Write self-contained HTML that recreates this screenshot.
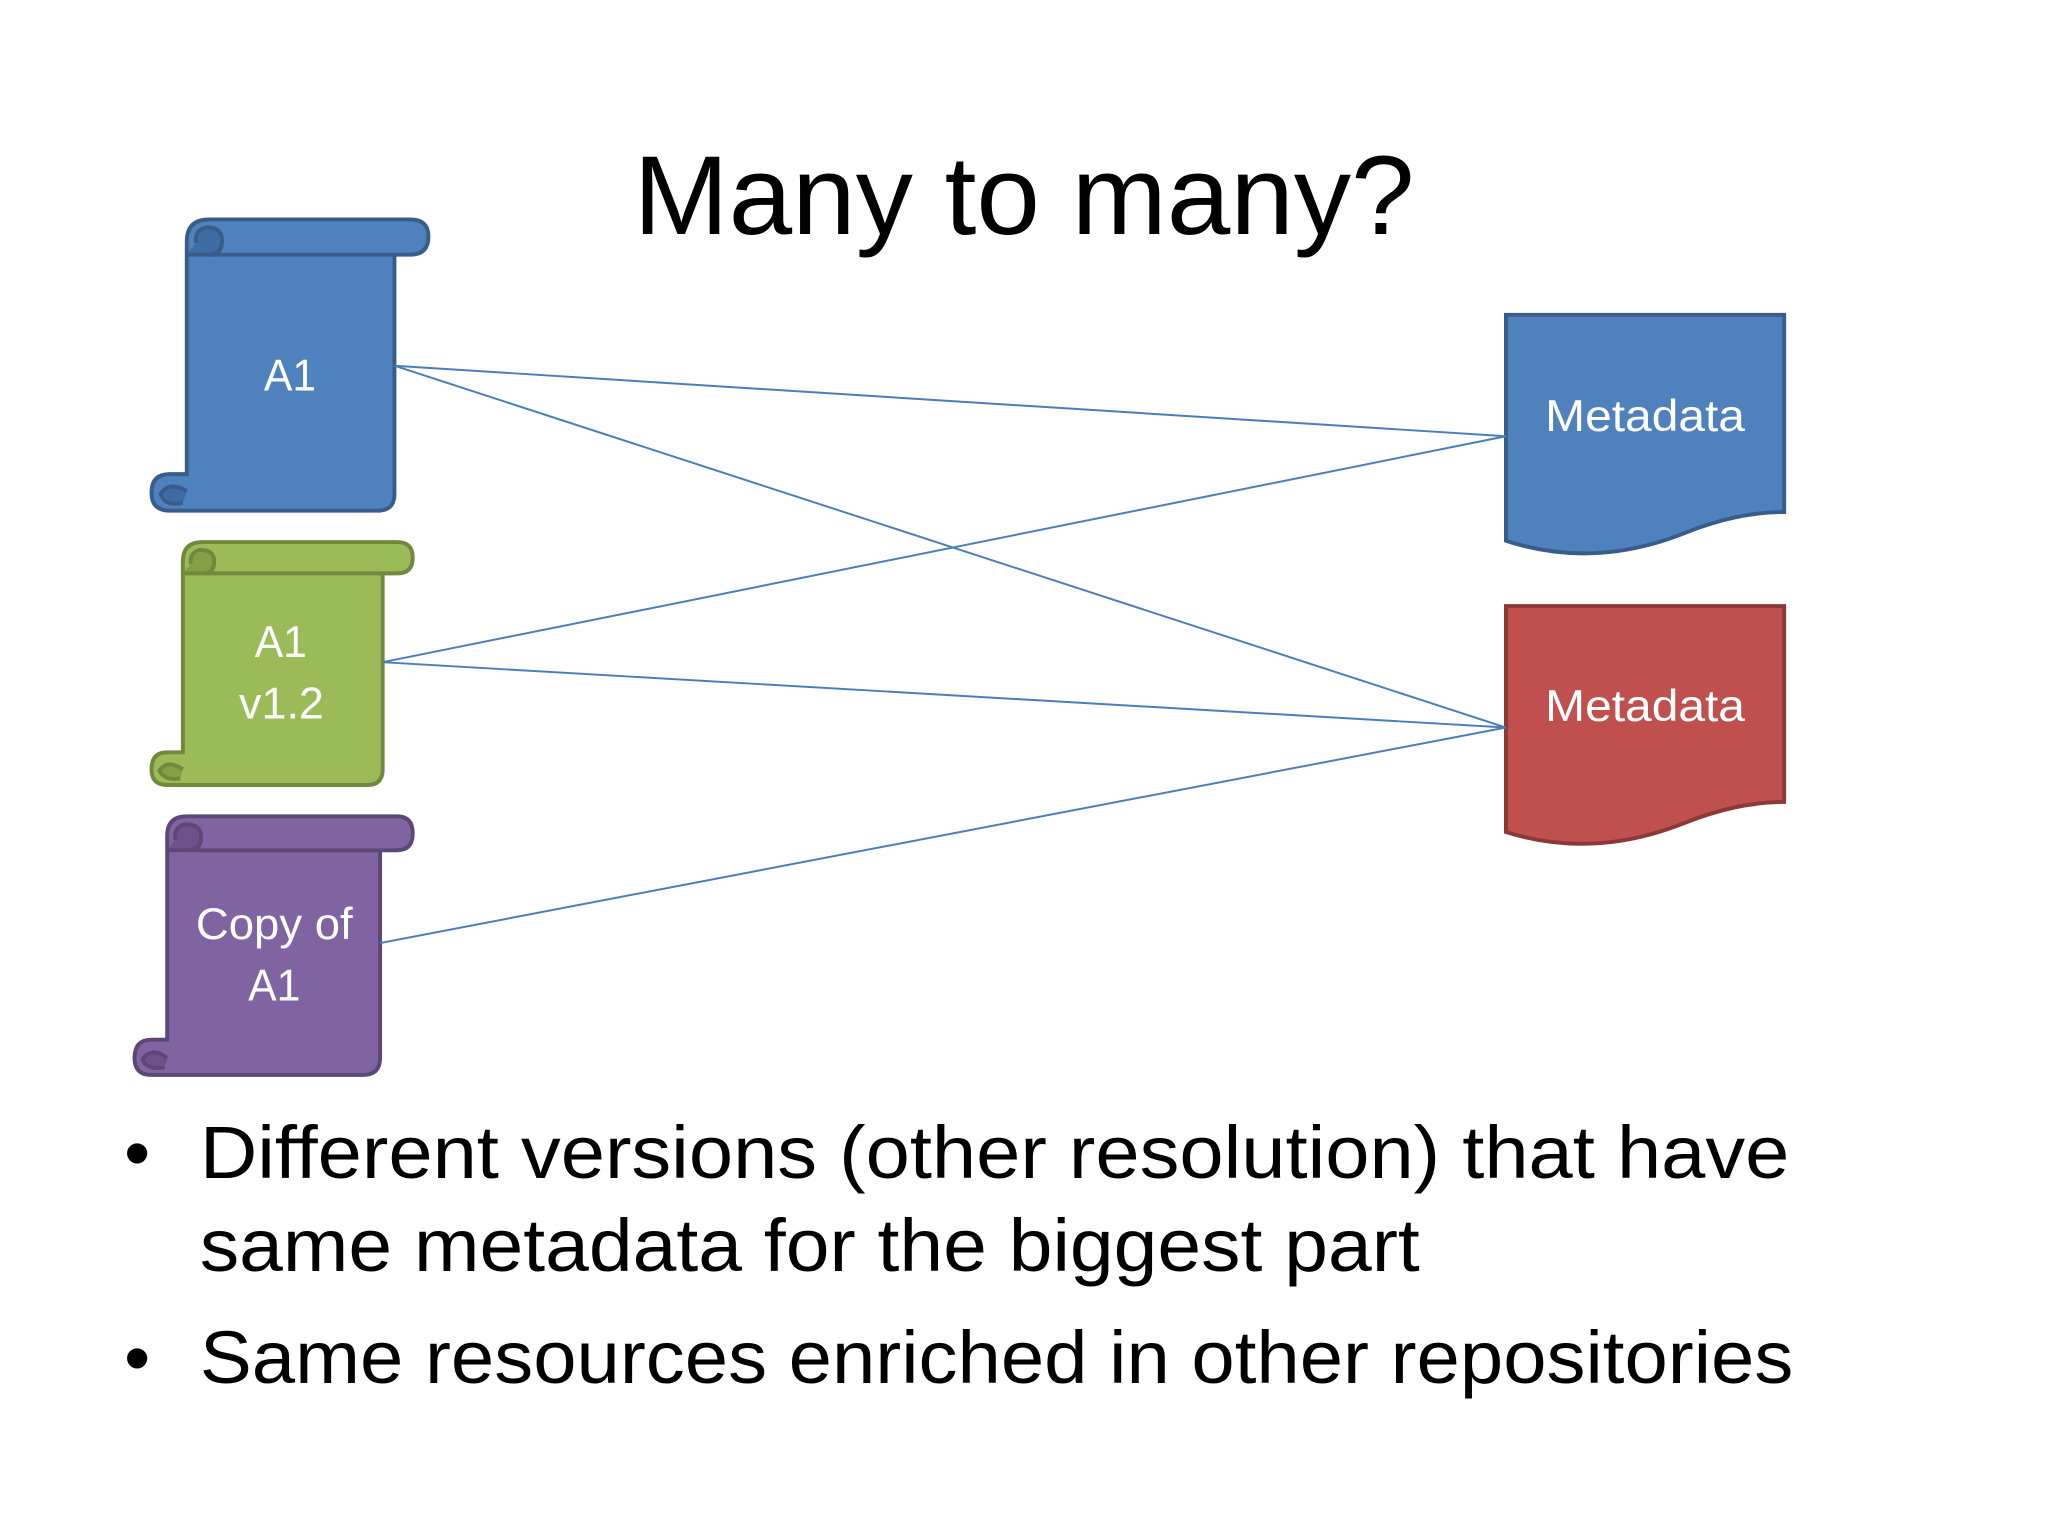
<!DOCTYPE html>
<html><head><meta charset="utf-8"><style>
html,body{margin:0;padding:0;background:#fff;}
svg{display:block;}
text{font-family:"Liberation Sans",sans-serif;}
</style></head><body>
<svg width="2048" height="1536" viewBox="0 0 1568 1176" xmlns="http://www.w3.org/2000/svg">
<rect width="1568" height="1176" fill="#fff"/>
<text x="485" y="179" font-size="86" textLength="598" lengthAdjust="spacingAndGlyphs" fill="#000">Many to many?</text>

<!-- Blue scroll -->
<g stroke="#385D8A" stroke-width="3" fill="#4F81BD">
<path d="M143,185 Q143,168 160,168 L314,168 Q328,168 328,181 Q328,195 314,195 L302,195 L302,378 Q302,391 289,391 L130,391 Q116,391 116,377 Q116,363 130,363 L143,363 Z"/>
<line x1="160" y1="195" x2="302" y2="195"/>
<path d="M143,195 L160,195 Q170,195 170,184 Q170,174 158,174 Q149,176 150,186" fill="#3F6CA3"/>
<path d="M143,376 Q130,368 123,378 Q126,388 140,385" fill="#3F6CA3"/>
</g>
<text x="202" y="299" font-size="34" fill="#fff" textLength="40" lengthAdjust="spacingAndGlyphs">A1</text>

<!-- Green scroll -->
<g stroke="#71893F" stroke-width="3" fill="#9BBB59">
<path d="M140,430 Q140,415 155,415 L304,415 Q316,415 316,427 Q316,439 304,439 L293,439 L293,589 Q293,601 281,601 L128,601 Q116,601 116,589 Q116,576 128,576 L140,576 Z"/>
<line x1="155" y1="439" x2="293" y2="439"/>
<path d="M140,439 L155,439 Q164,439 164,430 Q164,421 153,421 Q145,423 146,432" fill="#84A046"/>
<path d="M140,589 Q128,581 122,590 Q126,598 138,596" fill="#84A046"/>
</g>
<text x="195" y="503" font-size="34" fill="#fff" textLength="40" lengthAdjust="spacingAndGlyphs">A1</text>
<text x="183" y="550" font-size="34" fill="#fff" textLength="65" lengthAdjust="spacingAndGlyphs">v1.2</text>

<!-- Purple scroll -->
<g stroke="#5C4776" stroke-width="3" fill="#8064A2">
<path d="M128,640 Q128,625 143,625 L304,625 Q316,625 316,638 Q316,651 304,651 L291,651 L291,810 Q291,823 278,823 L116,823 Q103,823 103,810 Q103,796 116,796 L128,796 Z"/>
<line x1="143" y1="651" x2="291" y2="651"/>
<path d="M128,651 L143,651 Q154,651 154,641 Q154,631 142,631 Q133,633 134,643" fill="#6B528B"/>
<path d="M128,810 Q116,801 109,811 Q113,820 126,817" fill="#6B528B"/>
</g>
<text x="150" y="719" font-size="34" fill="#fff" textLength="120" lengthAdjust="spacingAndGlyphs">Copy of</text>
<text x="190" y="766" font-size="34" fill="#fff" textLength="40" lengthAdjust="spacingAndGlyphs">A1</text>

<!-- Metadata docs -->
<path d="M1153,241 L1366,241 L1366,392 Q1330,392 1290,408 Q1220,436 1153,414 Z" fill="#4F81BD" stroke="#385D8A" stroke-width="3"/>
<text x="1183" y="330" font-size="34" fill="#fff" textLength="153" lengthAdjust="spacingAndGlyphs">Metadata</text>
<path d="M1153,464 L1366,464 L1366,614 Q1330,614 1290,630 Q1220,658 1153,637 Z" fill="#C0504D" stroke="#8C3836" stroke-width="3"/>
<text x="1183" y="552" font-size="34" fill="#fff" textLength="153" lengthAdjust="spacingAndGlyphs">Metadata</text>

<!-- Connectors -->
<g stroke="#4A7EBB" stroke-width="1.5" fill="none">
<line x1="302" y1="280" x2="1153" y2="334"/>
<line x1="302" y1="280" x2="1153" y2="557"/>
<line x1="293" y1="507" x2="1153" y2="334"/>
<line x1="293" y1="507" x2="1153" y2="557"/>
<line x1="291" y1="722" x2="1153" y2="557"/>
</g>

<!-- Bullets -->
<g font-size="57" fill="#000">
<text x="95" y="902">•</text>
<text x="153" y="902" textLength="1217" lengthAdjust="spacingAndGlyphs">Different versions (other resolution) that have</text>
<text x="153" y="973" textLength="934" lengthAdjust="spacingAndGlyphs">same metadata for the biggest part</text>
<text x="95" y="1059">•</text>
<text x="153" y="1059" textLength="1220" lengthAdjust="spacingAndGlyphs">Same resources enriched in other repositories</text>
</g>
</svg>
</body></html>
